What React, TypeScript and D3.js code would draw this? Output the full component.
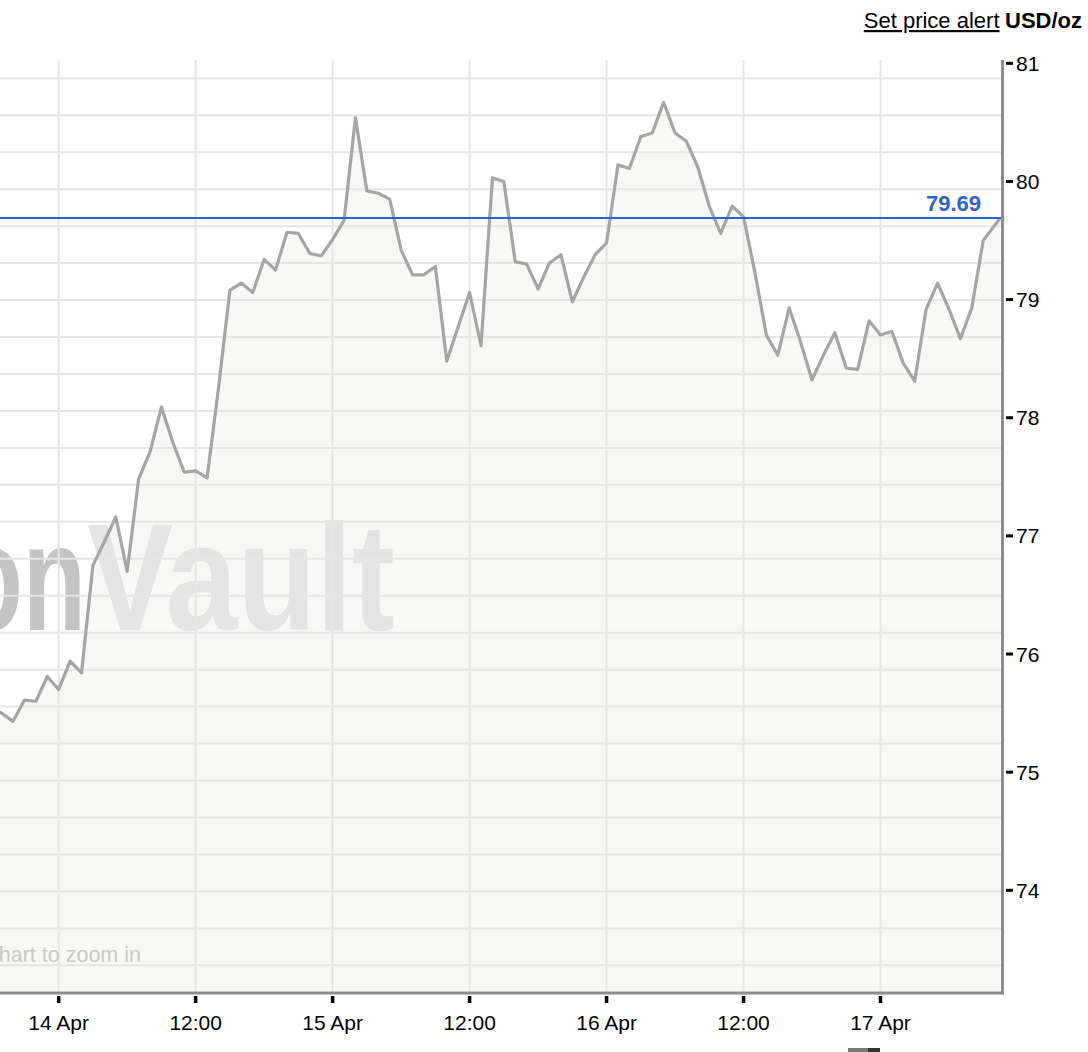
import React from "react";
import * as d3 from "d3";

// hourly prices, first point 13 Apr 18:00 UTC
const startTime = Date.UTC(2025, 3, 13, 18);
const hourlyPrices = [
  75.55, 75.5, 75.43, 75.61, 75.6, 75.81,
  75.7, 75.94, 75.84, 76.75, 76.95, 77.16, 76.7, 77.48, 77.71, 78.09, 77.79, 77.54,
  77.55, 77.49, 78.25, 79.08, 79.14, 79.06, 79.34, 79.25, 79.57, 79.56, 79.39, 79.37,
  79.51, 79.67, 80.54, 79.92, 79.9, 79.85, 79.42, 79.21, 79.21, 79.28, 78.48, 78.77,
  79.06, 78.61, 80.03, 80.0, 79.32, 79.3, 79.09, 79.31, 79.38, 78.98, 79.19, 79.38,
  79.48, 80.14, 80.11, 80.38, 80.41, 80.67, 80.41, 80.34, 80.12, 79.79, 79.56, 79.79,
  79.7, 79.23, 78.7, 78.53, 78.93, 78.64, 78.32, 78.53, 78.72, 78.42, 78.41, 78.82,
  78.7, 78.73, 78.46, 78.31, 78.92, 79.14, 78.92, 78.67, 78.93, 79.5,
];
const lastTime = Date.UTC(2025, 3, 17, 10, 30);
const lastPrice = 79.69;
const yTickValues = [74, 75, 76, 77, 78, 79, 80, 81];
const unitLabel = "USD/oz";
const alertLabel = "Set price alert";
const watermarkDark = "Bullion";
const watermarkLight = "Vault";
const hintText = "Click and drag in the chart to zoom in";

const FONT = "'Liberation Sans', Arial, Helvetica, sans-serif";

export default function App() {
  const W = 1088;
  const H = 1052;
  const plotLeft = 0;
  const plotRight = 1001;
  const plotTop = 60;
  const plotBottom = 993;

  const x = d3
    .scaleUtc()
    .domain([new Date(Date.UTC(2025, 3, 14)), new Date(Date.UTC(2025, 3, 17))])
    .range([58.7, 880.5]);
  const y = d3.scaleLinear().domain([74, 81]).range([890.3, 63.3]);

  const data = hourlyPrices
    .map((v, i) => ({ t: new Date(startTime + i * 3600e3), v }))
    .concat([{ t: new Date(lastTime), v: lastPrice }]);

  const lineGen = d3
    .line<{ t: Date; v: number }>()
    .x((d) => x(d.t))
    .y((d) => y(d.v));
  const areaGen = d3
    .area<{ t: Date; v: number }>()
    .x((d) => x(d.t))
    .y0(plotBottom)
    .y1((d) => y(d.v));

  const xTicks = d3.utcHour.every(12)!.range(x.invert(plotLeft), x.invert(plotRight));
  const fmtDay = d3.utcFormat("%-d %b");
  const fmtHour = d3.utcFormat("%H:%M");
  const fmt = (d: Date) => (d.getUTCHours() === 0 ? fmtDay(d) : fmtHour(d));

  // background grid (fixed pixel pattern)
  const gridStep = 36.96;
  const gridStart = plotTop + 18.3;
  const hGrid = d3.range(gridStart, plotBottom - 5, gridStep);

  const priceY = y(lastPrice);
  const darkScale = 0.68;

  return (
    <svg
      width={W}
      height={H}
      style={{ position: "absolute", left: 0, top: 0, background: "#fff" }}
      fontFamily={FONT}
    >
      <defs>
        <clipPath id="plotClip">
          <rect x={plotLeft} y={plotTop} width={plotRight - plotLeft} height={plotBottom - plotTop} />
        </clipPath>
      </defs>

      <g clipPath="url(#plotClip)">
        <path d={areaGen(data) || ""} fill="#f8f8f6" />
        <g transform={`scale(${darkScale},1)`}>
          <text
            x={86 / darkScale}
            y={630}
            fontSize={152}
            fontWeight="bold"
            fill="#c4c4c4"
            textAnchor="end"
          >
            {watermarkDark}
          </text>
        </g>
        <text
          x={87}
          y={630}
          fontSize={152}
          fontWeight="bold"
          fill="#e4e4e4"
          textLength={308}
          lengthAdjust="spacingAndGlyphs"
        >
          {watermarkLight}
        </text>
        {hGrid.map((gy, i) => (
          <line key={"h" + i} x1={plotLeft} x2={plotRight} y1={gy} y2={gy} stroke="#e6e6e6" strokeWidth={2} />
        ))}
        {xTicks.map((t, i) => (
          <line
            key={"v" + i}
            x1={x(t)}
            x2={x(t)}
            y1={plotTop}
            y2={plotBottom}
            stroke="#e6e6e6"
            strokeWidth={2}
          />
        ))}
        <text x={141} y={962} fontSize={21.5} fill="#c8c8c8" textAnchor="end">
          {hintText}
        </text>
        <path
          d={lineGen(data) || ""}
          fill="none"
          stroke="#a5a5a5"
          strokeWidth={3.2}
          strokeLinejoin="round"
        />
        <line x1={plotLeft} x2={plotRight} y1={priceY} y2={priceY} stroke="#2f63cc" strokeWidth={2} />
      </g>
      <text x={981} y={priceY - 7} fontSize={22} fontWeight="bold" fill="#2f63cc" textAnchor="end">
        {lastPrice.toFixed(2)}
      </text>

      {/* axes */}
      <line x1={plotLeft} x2={plotRight + 2} y1={plotBottom} y2={plotBottom} stroke="#8c8c8c" strokeWidth={3} />
      <line x1={plotRight + 1.5} x2={plotRight + 1.5} y1={plotTop} y2={plotBottom + 1.5} stroke="#8c8c8c" strokeWidth={3} />
      {yTickValues.map((v) => (
        <g key={"yt" + v}>
          <line x1={1006} x2={1013} y1={y(v)} y2={y(v)} stroke="#000" strokeWidth={3} />
          <text x={1016} y={y(v)} dy="0.36em" fontSize={21} fill="#000">
            {v}
          </text>
        </g>
      ))}
      {xTicks.map((t, i) => (
        <g key={"xt" + i}>
          <line x1={x(t)} x2={x(t)} y1={996} y2={1003} stroke="#000" strokeWidth={3.5} />
          <text x={x(t)} y={1030} fontSize={21} fill="#000" textAnchor="middle">
            {fmt(t)}
          </text>
        </g>
      ))}

      {/* header */}
      <text x={999.5} y={28} fontSize={22} fill="#000" textAnchor="end" textDecoration="underline">
        {alertLabel}
      </text>
      <text x={1082} y={28} fontSize={22} fontWeight="bold" fill="#000" textAnchor="end">
        {unitLabel}
      </text>

      {/* cut-off control at bottom */}
      <rect x={848} y={1048} width={20} height={6} fill="#777" />
      <rect x={868} y={1048} width={12} height={6} fill="#333" />
    </svg>
  );
}
